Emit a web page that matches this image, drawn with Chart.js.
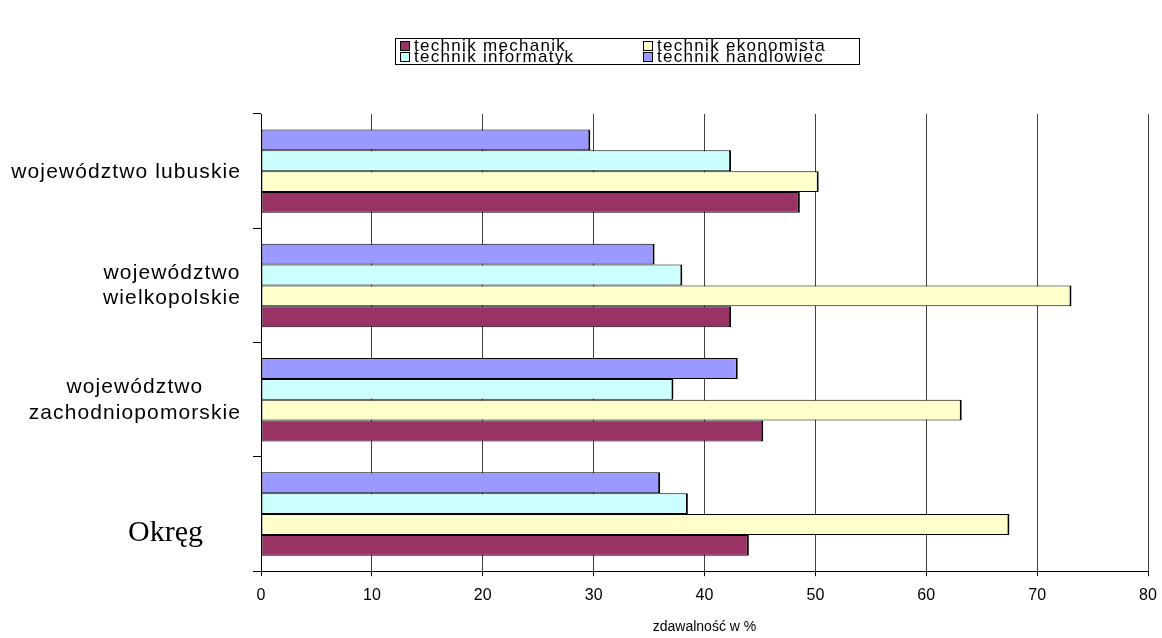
<!DOCTYPE html>
<html>
<head>
<meta charset="utf-8">
<script src="https://cdn.jsdelivr.net/npm/chart.js@4.4.0/dist/chart.umd.min.js"></script>
<style>
html,body{margin:0;padding:0;background:#fff;}
#wrap{width:1162px;height:638px;position:relative;}
canvas{display:block;}
</style>
</head>
<body>
<div id="wrap"><canvas id="c" width="1162" height="638"></canvas></div>
<script>
// ---- data ----
const categories = [
  ['województwo lubuskie'],
  ['województwo', 'wielkopolskie'],
  ['województwo', 'zachodniopomorskie'],
  ['Okręg']
];
const seriesNames = ['technik handlowiec', 'technik informatyk', 'technik ekonomista', 'technik mechanik'];
const handlowiec = [29.7, 35.5, 43.0, 36.0];
const informatyk = [42.4, 38.0, 37.2, 38.5];
const ekonomista = [50.3, 73.1, 63.2, 67.5];
const mechanik   = [48.6, 42.4, 45.3, 44.0];
const xTicks = [0, 10, 20, 30, 40, 50, 60, 70, 80];
const xTitle = 'zdawalność w %';

// ---- styles ----
const seriesValues = [handlowiec, informatyk, ekonomista, mechanik];
const seriesColors = ['#9999FF', '#CCFFFF', '#FFFFCC', '#993366'];
const legendOrder = [3, 2, 1, 0];
const labelStyles = [
  {font: '21px "Liberation Sans"', spacing: 1.1, lineGap: 25.6, right: 240, baseline: 7},
  {font: '21px "Liberation Sans"', spacing: 1.1, lineGap: 25.6, right: 240, baseline: 6},
  {font: '21px "Liberation Sans"', spacing: 1.1, lineGap: 25.6, right: 240, baseline: 6},
  {font: '30px "Liberation Serif"', spacing: 0, lineGap: 0, right: 203, baseline: 26.5}
];
const legendStyle = {x: 395.5, y: 38.5, w: 464, h: 26, cols: [400, 643], rows: [50.5, 62], box: 10, gap: 4,
  font: '17px "Liberation Sans"', spacing: 1.3};

function setLS(ctx, v) { if ('letterSpacing' in ctx) ctx.letterSpacing = v + 'px'; }

const yLabelPlugin = {
  id: 'yLabels',
  afterDraw(chart) {
    const ctx = chart.ctx, ys = chart.scales.y;
    ctx.save();
    ctx.fillStyle = '#000';
    ctx.textBaseline = 'alphabetic';
    ctx.textAlign = 'left';
    chart.data.labels.forEach((lines, i) => {
      const st = labelStyles[i];
      ctx.font = st.font;
      setLS(ctx, 0);
      const widths = lines.map(t => ctx.measureText(t).width + st.spacing * (Array.from(t).length - 1));
      const bw = Math.max(...widths);
      const cx = st.right - bw / 2;
      const cy = ys.getPixelForValue(i);
      setLS(ctx, st.spacing);
      lines.forEach((t, j) => {
        const by = cy + st.baseline + (j - (lines.length - 1) / 2) * st.lineGap;
        ctx.fillText(t, cx - widths[j] / 2, by);
      });
    });
    ctx.restore();
  }
};

const legendPlugin = {
  id: 'boxLegend',
  afterDraw(chart) {
    const ctx = chart.ctx, L = legendStyle;
    ctx.save();
    ctx.strokeStyle = '#000';
    ctx.lineWidth = 1;
    ctx.strokeRect(L.x, L.y, L.w, L.h);
    ctx.font = L.font;
    ctx.textBaseline = 'alphabetic';
    ctx.textAlign = 'left';
    setLS(ctx, L.spacing);
    legendOrder.forEach((di, k) => {
      const ds = chart.data.datasets[di];
      const x = L.cols[k % 2], by = Math.round(L.rows[Math.floor(k / 2)]);
      ctx.fillStyle = ds.backgroundColor;
      ctx.fillRect(x + 0.5, by - L.box + 0.5, L.box - 1, L.box - 1);
      ctx.strokeRect(x + 0.5, by - L.box + 0.5, L.box - 1, L.box - 1);
      ctx.fillStyle = '#000';
      ctx.fillText(ds.label, x + L.box + L.gap, L.rows[Math.floor(k / 2)]);
    });
    ctx.restore();
  }
};

new Chart(document.getElementById('c').getContext('2d'), {
  type: 'bar',
  data: {
    labels: categories,
    datasets: seriesNames.map((n, i) => ({
      label: n,
      data: seriesValues[i],
      backgroundColor: seriesColors[i],
      borderColor: '#000',
      borderWidth: {top: 1, bottom: 1, left: 1, right: 2},
      borderSkipped: false,
      categoryPercentage: 0.73,
      barPercentage: 1
    }))
  },
  options: {
    indexAxis: 'y',
    responsive: false,
    animation: false,
    devicePixelRatio: 1,
    layout: {padding: {left: 253, right: 14, top: 114, bottom: 2}},
    plugins: {legend: {display: false}, tooltip: {enabled: false}},
    scales: {
      x: {
        min: 0, max: 80,
        afterBuildTicks: axis => { axis.ticks = xTicks.map(v => ({value: v})); },
        grid: {color: '#404040', lineWidth: 1, tickLength: 5, tickColor: '#000'},
        border: {color: '#000', width: 1},
        ticks: {font: {family: 'Liberation Sans', size: 16, lineHeight: 1.75}, color: '#000', padding: 5, maxRotation: 0},
        title: {display: true, text: xTitle, font: {family: 'Liberation Sans', size: 14}, color: '#000',
          padding: {top: 5, bottom: 0}}
      },
      y: {
        grid: {display: true, drawOnChartArea: false, drawTicks: true, tickLength: 8, color: '#000'},
        border: {color: '#000', width: 1},
        ticks: {display: false}
      }
    }
  },
  plugins: [yLabelPlugin, legendPlugin]
});
</script>
</body>
</html>
